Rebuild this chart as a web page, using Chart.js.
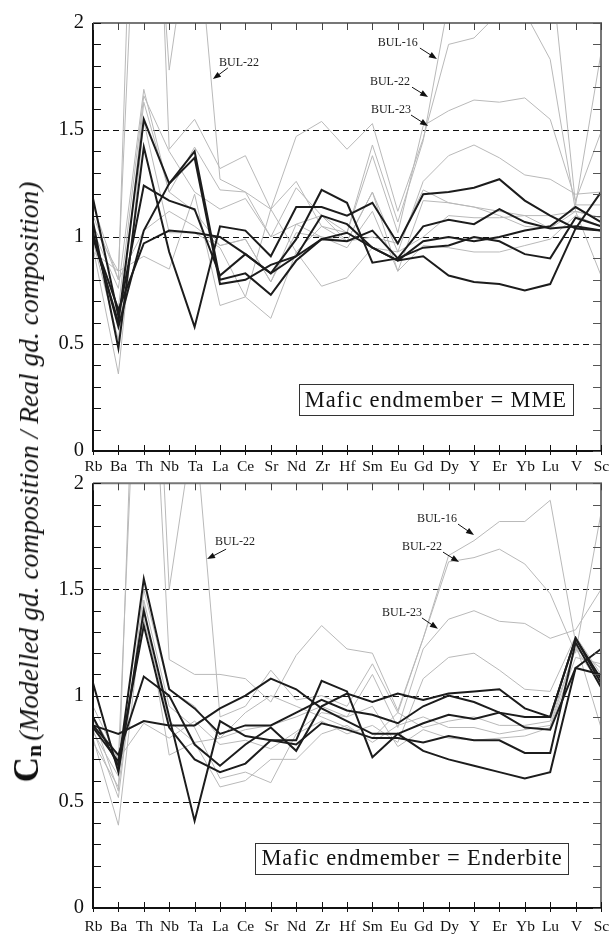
<!DOCTYPE html>
<html>
<head>
<meta charset="utf-8">
<script src="https://cdn.jsdelivr.net/npm/chart.js@4"></script>
<style>
  body { margin: 0; background: #fff; }
  #wrap { position: relative; width: 610px; height: 935px; overflow: hidden; }
  .panel { position: absolute; left: 0; }
  #ytitle {
    position: absolute; left: 27px; top: 482px;
    transform: translate(-50%, -50%) rotate(-90deg);
    white-space: nowrap; color: #111;
    font-family: 'Liberation Serif', 'Times New Roman', serif;
  }
  #ytitle .c { font-size: 35px; font-weight: bold; }
  #ytitle .c sub { font-size: 22px; vertical-align: -3px; }
  #ytitle i { font-size: 27.5px; }
</style>
</head>
<body>
<div id="wrap">
  <canvas id="top" class="panel" width="610" height="480" style="top:0"></canvas>
  <canvas id="bottom" class="panel" width="610" height="465" style="top:470px"></canvas>
  <div id="ytitle"><span class="c">C<sub>n</sub></span> <i>(Modelled gd. composition / Real gd. composition)</i></div>
</div>
<script>
const elements = ['Rb', 'Ba', 'Th', 'Nb', 'Ta', 'La', 'Ce', 'Sr', 'Nd', 'Zr', 'Hf', 'Sm', 'Eu', 'Gd', 'Dy', 'Y', 'Er', 'Yb', 'Lu', 'V', 'Sc'];
const yTicks = [0, 0.5, 1, 1.5, 2];
const refLines = [0.5, 1, 1.5];

// Mafic endmember = MME
const mmeBlack = [
  [1.00, 0.60, 1.55, 1.25, 1.40, 0.80, 0.83, 0.73, 0.89, 0.99, 0.98, 1.03, 0.90, 0.95, 0.96, 1.00, 0.98, 0.92, 0.90, 1.09, 1.05],
  [1.02, 0.58, 1.03, 1.25, 1.37, 0.78, 0.80, 0.87, 0.91, 1.10, 1.06, 0.95, 0.89, 0.98, 1.00, 0.98, 1.00, 1.03, 1.05, 1.14, 1.07],
  [1.07, 0.48, 1.42, 0.93, 0.58, 1.05, 1.03, 0.91, 1.14, 1.14, 1.10, 1.16, 0.97, 1.20, 1.21, 1.23, 1.27, 1.17, 1.10, 1.04, 1.03],
  [1.18, 0.63, 1.24, 1.17, 1.13, 0.82, 0.92, 0.83, 0.99, 1.22, 1.16, 0.88, 0.90, 1.05, 1.08, 1.06, 1.13, 1.07, 1.04, 1.05, 1.03],
  [1.00, 0.66, 0.97, 1.03, 1.02, 1.00, 0.92, 0.83, 0.91, 0.99, 1.02, 0.95, 0.89, 0.91, 0.82, 0.79, 0.78, 0.75, 0.78, 1.04, 1.21]
];
const mmeGrey = [
  [1.10, 0.80, 4.50, 1.41, 1.55, 1.32, 1.38, 1.13, 1.47, 1.54, 1.41, 1.53, 1.12, 1.46, 1.90, 1.93, 2.05, 2.05, 1.83, 1.12, 0.82],
  [1.05, 0.84, 3.50, 1.78, 2.60, 1.27, 1.21, 1.00, 1.23, 1.10, 1.02, 1.43, 1.07, 1.45, 2.10, 2.40, 2.50, 2.50, 2.30, 1.15, 1.86],
  [1.03, 0.76, 1.69, 1.21, 1.42, 1.22, 1.21, 1.13, 1.26, 1.05, 1.02, 1.38, 1.02, 1.52, 1.59, 1.64, 1.63, 1.65, 1.55, 1.17, 1.49],
  [1.00, 0.67, 1.66, 1.40, 1.21, 1.13, 1.18, 1.00, 1.06, 1.10, 0.98, 1.21, 0.93, 1.26, 1.38, 1.43, 1.37, 1.29, 1.27, 1.20, 1.21],
  [0.98, 0.52, 1.63, 1.21, 1.12, 0.96, 0.99, 0.79, 1.02, 1.00, 0.95, 1.12, 0.84, 1.17, 1.16, 1.14, 1.12, 1.10, 1.10, 1.12, 1.09],
  [0.95, 0.36, 1.54, 1.02, 1.02, 0.95, 0.72, 0.62, 0.93, 0.77, 0.81, 0.95, 0.93, 1.00, 1.10, 1.09, 1.09, 1.10, 1.04, 1.15, 1.15],
  [0.93, 0.84, 0.91, 0.85, 1.20, 0.68, 0.72, 1.13, 0.93, 1.05, 0.98, 1.21, 0.84, 0.96, 0.95, 0.93, 0.93, 0.96, 0.99, 1.10, 1.05],
  [1.15, 0.80, 1.03, 1.12, 1.05, 0.96, 0.99, 0.79, 1.06, 1.00, 0.98, 1.00, 0.97, 1.22, 1.16, 1.14, 1.10, 1.05, 1.04, 1.12, 1.09]
];

// Mafic endmember = Enderbite
const endBlack = [
  [0.86, 0.82, 0.88, 0.86, 0.86, 0.94, 1.00, 1.08, 1.03, 0.94, 0.88, 0.82, 0.82, 0.87, 0.91, 0.89, 0.92, 0.85, 0.84, 1.13, 1.10],
  [0.90, 0.67, 1.55, 1.03, 0.94, 0.82, 0.86, 0.86, 0.92, 0.98, 0.93, 0.91, 0.87, 0.95, 1.00, 0.97, 0.92, 0.90, 0.90, 1.27, 1.08],
  [1.06, 0.64, 1.40, 0.90, 0.41, 0.88, 0.81, 0.79, 0.79, 1.07, 1.02, 0.71, 0.82, 0.74, 0.70, 0.67, 0.64, 0.61, 0.64, 1.13, 1.22],
  [0.85, 0.69, 1.33, 0.85, 0.70, 0.64, 0.68, 0.79, 0.77, 0.87, 0.84, 0.80, 0.80, 0.78, 0.81, 0.79, 0.79, 0.73, 0.73, 1.25, 1.04],
  [0.86, 0.72, 1.09, 1.00, 0.77, 0.67, 0.77, 0.85, 0.74, 0.95, 1.01, 0.97, 1.01, 0.98, 1.01, 1.02, 1.03, 0.94, 0.90, 1.27, 1.06]
];
const endGrey = [
  [0.95, 0.70, 3.50, 1.17, 1.10, 1.10, 1.08, 0.97, 1.19, 1.33, 1.22, 1.20, 0.93, 1.27, 1.66, 1.73, 1.82, 1.82, 1.92, 1.25, 0.85],
  [0.90, 0.55, 4.00, 1.50, 2.30, 0.90, 0.95, 1.12, 0.98, 1.00, 0.95, 1.15, 0.92, 1.27, 1.63, 1.65, 1.69, 1.62, 1.48, 1.20, 1.86],
  [0.84, 0.52, 1.50, 1.03, 0.95, 0.80, 0.84, 0.86, 0.90, 0.95, 0.90, 1.10, 0.85, 1.22, 1.36, 1.40, 1.35, 1.34, 1.27, 1.31, 1.50],
  [0.80, 0.39, 1.45, 0.95, 0.85, 0.61, 0.64, 0.59, 0.82, 0.88, 0.82, 0.86, 0.78, 1.08, 1.18, 1.20, 1.12, 1.03, 1.02, 1.28, 1.10],
  [0.78, 0.57, 1.43, 0.72, 0.78, 0.57, 0.60, 0.70, 0.70, 0.82, 0.86, 0.78, 0.86, 0.90, 0.85, 0.85, 0.82, 0.84, 0.86, 1.22, 1.13],
  [0.90, 0.70, 0.87, 0.80, 0.88, 0.77, 0.79, 0.75, 0.83, 0.92, 0.90, 0.95, 0.76, 0.84, 0.80, 0.79, 0.80, 0.81, 0.85, 1.18, 1.15],
  [0.83, 0.62, 1.36, 0.88, 0.78, 0.80, 0.92, 1.00, 0.95, 0.90, 0.85, 0.80, 0.92, 0.85, 0.88, 0.90, 0.86, 0.86, 0.88, 1.22, 1.05]
];

const serif = "'Liberation Serif', 'Times New Roman', serif";

// frame, inward ticks, element labels, dashed reference lines, sample labels and the boxed caption
const panelPlugin = {
  id: 'panel',
  beforeDatasetsDraw(chart) {
    const { ctx, chartArea: a, scales: { y } } = chart;
    ctx.save();
    ctx.strokeStyle = '#111';
    ctx.lineWidth = 1;
    ctx.setLineDash([6, 4]);
    refLines.forEach(v => {
      const py = Math.round(y.getPixelForValue(v)) + 0.5;
      ctx.beginPath();
      ctx.moveTo(a.left, py);
      ctx.lineTo(a.right, py);
      ctx.stroke();
    });
    ctx.restore();
  },
  afterDatasetsDraw(chart, args, opts) {
    const { ctx, chartArea: a, scales: { x, y } } = chart;
    ctx.save();
    ctx.lineWidth = 2;
    // top + right in grey, left + bottom in black
    ctx.strokeStyle = '#777';
    ctx.beginPath();
    ctx.moveTo(a.left, a.top); ctx.lineTo(a.right, a.top); ctx.lineTo(a.right, a.bottom);
    ctx.stroke();
    ctx.strokeStyle = '#111';
    ctx.beginPath();
    ctx.moveTo(a.left, a.top); ctx.lineTo(a.left, a.bottom); ctx.lineTo(a.right, a.bottom);
    ctx.stroke();

    ctx.lineWidth = 1;
    for (let i = 0; i <= 20; i++) {
      const py = Math.round(y.getPixelForValue(i / 10)) + 0.5;
      ctx.strokeStyle = '#111';
      ctx.beginPath(); ctx.moveTo(a.left, py); ctx.lineTo(a.left + 8, py); ctx.stroke();
      ctx.strokeStyle = '#555';
      ctx.beginPath(); ctx.moveTo(a.right, py); ctx.lineTo(a.right - 8, py); ctx.stroke();
    }
    ctx.font = '15.5px ' + serif;
    ctx.textAlign = 'center';
    ctx.textBaseline = 'middle';
    elements.forEach((name, i) => {
      const px = Math.round(x.getPixelForValue(i)) + 0.5;
      ctx.strokeStyle = '#111';
      ctx.beginPath(); ctx.moveTo(px, a.bottom + 4); ctx.lineTo(px, a.bottom - 6); ctx.stroke();
      ctx.strokeStyle = '#444';
      ctx.beginPath(); ctx.moveTo(px, a.top); ctx.lineTo(px, a.top + 7); ctx.stroke();
      ctx.fillStyle = '#111';
      ctx.fillText(name, px, a.bottom + opts.labelGap);
    });

    // sample labels with arrows
    ctx.font = '12px ' + serif;
    (opts.notes || []).forEach(n => {
      ctx.fillStyle = '#222';
      ctx.fillText(n.text, x.getPixelForValue(n.tx), y.getPixelForValue(n.ty));
      const x0 = x.getPixelForValue(n.ax), y0 = y.getPixelForValue(n.ay);
      const x1 = x.getPixelForValue(n.hx), y1 = y.getPixelForValue(n.hy);
      const ang = Math.atan2(y1 - y0, x1 - x0);
      ctx.strokeStyle = '#111';
      ctx.lineWidth = 1;
      ctx.beginPath(); ctx.moveTo(x0, y0); ctx.lineTo(x1 - 5 * Math.cos(ang), y1 - 5 * Math.sin(ang)); ctx.stroke();
      ctx.fillStyle = '#111';
      ctx.beginPath();
      ctx.moveTo(x1, y1);
      ctx.lineTo(x1 - 8 * Math.cos(ang) + 3 * Math.sin(ang), y1 - 8 * Math.sin(ang) - 3 * Math.cos(ang));
      ctx.lineTo(x1 - 8 * Math.cos(ang) - 3 * Math.sin(ang), y1 - 8 * Math.sin(ang) + 3 * Math.cos(ang));
      ctx.closePath();
      ctx.fill();
    });

    // caption box
    if (opts.box) {
      const b = opts.box;
      ctx.font = '22.5px ' + serif;
      ctx.letterSpacing = '0.9px';
      const w = ctx.measureText(b.text).width + 12;
      const h = 31;
      const cx = x.getPixelForValue(b.x), cy = y.getPixelForValue(b.y);
      ctx.fillStyle = '#fff';
      ctx.fillRect(cx - w / 2, cy - h / 2, w, h);
      ctx.strokeStyle = '#333';
      ctx.lineWidth = 1;
      ctx.strokeRect(Math.round(cx - w / 2) + 0.5, Math.round(cy - h / 2) + 0.5, Math.round(w), h);
      ctx.fillStyle = '#111';
      ctx.fillText(b.text, cx, cy + 1);
      ctx.letterSpacing = '0px';
    }
    ctx.restore();
  }
};

function makeSets(black, grey) {
  const sets = [];
  black.forEach(row => sets.push({
    data: row, borderColor: '#1c1c1c', borderWidth: 2, pointRadius: 0, tension: 0
  }));
  grey.forEach(row => sets.push({
    data: row, borderColor: '#b9b9b9', borderWidth: 1, pointRadius: 0, tension: 0
  }));
  return sets;
}

function makeChart(id, black, grey, padTop, xHeight, labelGap, notes, box) {
  return new Chart(document.getElementById(id), {
    type: 'line',
    data: { labels: elements, datasets: makeSets(black, grey) },
    options: {
      responsive: false,
      animation: false,
      layout: { padding: { top: padTop, right: 9, left: 0, bottom: 0 } },
      plugins: {
        legend: { display: false },
        tooltip: { enabled: false },
        panel: { notes: notes, box: box, labelGap: labelGap }
      },
      scales: {
        x: {
          type: 'category',
          offset: false,
          grid: { display: false },
          border: { display: false },
          ticks: { display: false },
          afterFit: (axis) => { axis.height = xHeight; }
        },
        y: {
          min: 0,
          max: 2,
          grid: { display: false },
          border: { display: false },
          afterBuildTicks: (axis) => { axis.ticks = yTicks.map(v => ({ value: v })); },
          ticks: {
            padding: 1, color: '#111', font: { family: serif, size: 20.5 },
            callback: (v) => String(v)
          },
          afterFit: (axis) => { axis.width = 93; }
        }
      }
    },
    plugins: [panelPlugin]
  });
}

makeChart('top', mmeBlack, mmeGrey, 23, 29, 16, [
  { text: 'BUL-22', tx: 5.75, ty: 1.813, ax: 5.31, ay: 1.79, hx: 4.72, hy: 1.738 },
  { text: 'BUL-16', tx: 12.0, ty: 1.907, ax: 12.87, ay: 1.883, hx: 13.54, hy: 1.832 },
  { text: 'BUL-22', tx: 11.69, ty: 1.724, ax: 12.56, ay: 1.70, hx: 13.19, hy: 1.654 },
  { text: 'BUL-23', tx: 11.73, ty: 1.593, ax: 12.52, ay: 1.57, hx: 13.19, hy: 1.519 }
], { text: 'Mafic endmember = MME', x: 13.5, y: 0.24 });

makeChart('bottom', endBlack, endGrey, 12, 27, 19, [
  { text: 'BUL-22', tx: 5.59, ty: 1.723, ax: 5.24, ay: 1.69, hx: 4.49, hy: 1.643 },
  { text: 'BUL-16', tx: 13.54, ty: 1.831, ax: 14.37, ay: 1.808, hx: 15.0, hy: 1.756 },
  { text: 'BUL-22', tx: 12.95, ty: 1.70, ax: 13.78, ay: 1.676, hx: 14.41, hy: 1.629 },
  { text: 'BUL-23', tx: 12.17, ty: 1.39, ax: 12.95, ay: 1.366, hx: 13.58, hy: 1.315 }
], { text: 'Mafic endmember = Enderbite', x: 12.56, y: 0.235 });
</script>
</body>
</html>
